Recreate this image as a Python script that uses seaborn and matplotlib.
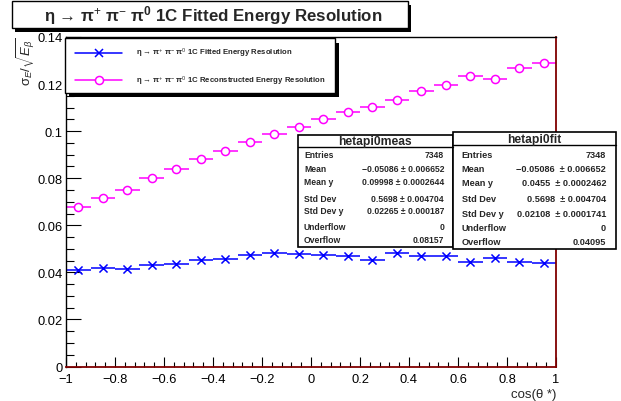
import matplotlib
matplotlib.use("Agg")
import matplotlib.pyplot as plt
import pandas as pd
import seaborn as sns
from matplotlib.patches import Rectangle
from matplotlib.lines import Line2D
from matplotlib.ticker import MultipleLocator, FuncFormatter

# ---- data -------------------------------------------------------------
cos_theta = [-0.95, -0.85, -0.75, -0.65, -0.55, -0.45, -0.35, -0.25, -0.15, -0.05,
             0.05, 0.15, 0.25, 0.35, 0.45, 0.55, 0.65, 0.75, 0.85, 0.95]
fitted_res = [0.0411, 0.0418, 0.0414, 0.0430, 0.0437, 0.0454, 0.0457, 0.0475, 0.0481, 0.0478,
              0.0474, 0.0471, 0.0454, 0.0482, 0.0471, 0.0471, 0.0443, 0.0461, 0.0443, 0.0438]
recon_res = [0.0676, 0.0715, 0.0750, 0.0802, 0.0840, 0.0880, 0.0915, 0.0952, 0.0988, 0.1019,
             0.1050, 0.1082, 0.1102, 0.1133, 0.1172, 0.1195, 0.1233, 0.1223, 0.1267, 0.1291]
bin_half_width = 0.05

title_text = "\u03b7 \u2192 \u03c0$^{+}$ \u03c0$^{-}$ \u03c0$^{\\mathbf{0}}$ 1C Fitted Energy Resolution"
legend_labels = [
    "\u03b7 \u2192 \u03c0$^{+}$ \u03c0$^{-}$ \u03c0$^{0}$ 1C Fitted Energy Resolution",
    "\u03b7 \u2192 \u03c0$^{+}$ \u03c0$^{-}$ \u03c0$^{0}$ 1C Reconstructed Energy Resolution",
]
stat_names = ["Entries", "Mean", "Mean y", "Std Dev", "Std Dev y", "Underflow", "Overflow"]
meas_title = "hetapi0meas"
meas_values = ["7348", "\u22120.05086 \u00b1 0.006652", "0.09998 \u00b1 0.0002644",
               "0.5698 \u00b1 0.004704", "0.02265 \u00b1 0.000187", "0", "0.08157"]
fit_title = "hetapi0fit"
fit_values = ["7348", "\u22120.05086  \u00b1 0.006652", "0.0455  \u00b1 0.0002462",
              "0.5698  \u00b1 0.004704", "0.02108  \u00b1 0.0001741", "0", "0.04095"]

# ---- style ------------------------------------------------------------
sns.set_theme(style="ticks")
plt.rcParams["font.family"] = ["Liberation Sans", "DejaVu Sans"]
plt.rcParams["mathtext.fontset"] = "custom"
plt.rcParams["mathtext.rm"] = "Liberation Sans"
plt.rcParams["mathtext.it"] = "Liberation Sans:italic"
plt.rcParams["mathtext.bf"] = "Liberation Sans:bold"
plt.rcParams["axes.unicode_minus"] = True

W, H = 621, 402
fig = plt.figure(figsize=(W / 100, H / 100), dpi=100, facecolor="white")


def fx(x):
    return x / W


def fy(y):
    return 1 - y / H


ax_l, ax_r, ax_t, ax_b = 66, 556, 38, 367.5
ax = fig.add_axes([fx(ax_l), fy(ax_b), (ax_r - ax_l) / W, (ax_b - ax_t) / H])
ax.set_facecolor("white")

df = pd.DataFrame({"cos": cos_theta, "fit": fitted_res, "rec": recon_res})

# horizontal bin-width bars
ax.errorbar(df["cos"], df["rec"], xerr=bin_half_width, fmt="none",
            ecolor="#ff00ff", elinewidth=1.1, capsize=0, zorder=2)
ax.errorbar(df["cos"], df["fit"], xerr=bin_half_width, fmt="none",
            ecolor="#0000ff", elinewidth=1.1, capsize=0, zorder=2)

# markers
sns.scatterplot(data=df, x="cos", y="rec", marker="o", s=34, color="white",
                edgecolor="#ff00ff", linewidth=1.1, ax=ax, zorder=3, legend=False)
sns.scatterplot(data=df, x="cos", y="fit", marker="x", s=34, color="#0000ff",
                linewidth=1.1, ax=ax, zorder=3, legend=False)

ax.set_xlim(-1, 1)
ax.set_ylim(0, 0.14)
ax.set_xlabel("")
ax.set_ylabel("")

ax.xaxis.set_major_locator(MultipleLocator(0.2))
ax.xaxis.set_minor_locator(MultipleLocator(0.04))
ax.yaxis.set_major_locator(MultipleLocator(0.02))
ax.yaxis.set_minor_locator(MultipleLocator(0.005))


def fmt(v, _):
    s = f"{v:.2f}".rstrip("0").rstrip(".")
    if s in ("-0", "0", ""):
        return "0"
    return s.replace("-", "\u2212")


ax.xaxis.set_major_formatter(FuncFormatter(fmt))
ax.yaxis.set_major_formatter(FuncFormatter(fmt))
ax.tick_params(axis="both", which="both", direction="in", labelsize=9.3,
               colors="black", width=0.8)
ax.tick_params(axis="x", which="major", length=7.2, pad=4.5)
ax.tick_params(axis="x", which="minor", length=3.6)
ax.tick_params(axis="y", which="major", length=10.5, pad=2.5)
ax.tick_params(axis="y", which="minor", length=5.5)

for side in ("top", "left"):
    ax.spines[side].set_color("black")
    ax.spines[side].set_linewidth(1.0)
for side in ("right", "bottom"):
    ax.spines[side].set_color("#800000")
    ax.spines[side].set_linewidth(1.3)

# axis titles
fig.text(fx(26), fy(37), r"$\mathrm{\sigma}_{E}/\sqrt{E_{\beta}}$", rotation=90,
         ha="center", va="top", fontsize=9.5)
fig.text(fx(556), fy(395), "cos(\u03b8 *)", ha="right", va="center", fontsize=9.5)

# ---- title box --------------------------------------------------------
def shadow_box(l, t, r, b, dx, dy, lw=1.0):
    fig.patches.append(Rectangle((fx(l + dx), fy(b + dy)), (r - l) / W, (b - t) / H,
                                 transform=fig.transFigure, facecolor="black",
                                 edgecolor="none", zorder=5))
    fig.patches.append(Rectangle((fx(l), fy(b)), (r - l) / W, (b - t) / H,
                                 transform=fig.transFigure, facecolor="white",
                                 edgecolor="black", linewidth=lw, zorder=6))


shadow_box(11.5, 2, 408, 29, 3, 4)
fig.text(fx(213), fy(15.5), title_text, ha="center", va="center",
         fontsize=12.2, fontweight="bold", zorder=7)

# ---- legend -----------------------------------------------------------
shadow_box(65, 39, 335, 93.5, 4, 4.5)
leg_rows = [(53.5, "#0000ff", "x", "#0000ff"), (81, "#ff00ff", "o", "white")]
for (yy, col, mk, face), lab in zip(leg_rows, legend_labels):
    fig.lines.append(Line2D([fx(75), fx(122)], [fy(yy), fy(yy)], transform=fig.transFigure,
                            color=col, linewidth=1.1, zorder=7))
    fig.lines.append(Line2D([fx(98.5)], [fy(yy)], transform=fig.transFigure, color=col,
                            marker=mk, markersize=5.8, markerfacecolor=face,
                            markeredgecolor=col, markeredgewidth=1.1,
                            linestyle="none", zorder=8))
    fig.text(fx(136), fy(yy), lab, ha="left", va="center", fontsize=5.6,
             fontweight="bold", zorder=8)

# ---- statistics boxes -------------------------------------------------
def stats_box(l, t, r, b, sep, title, values, label_x, value_x, rows, fs):
    fig.patches.append(Rectangle((fx(l), fy(b)), (r - l) / W, (b - t) / H,
                                 transform=fig.transFigure, facecolor="white",
                                 edgecolor="black", linewidth=1.2, zorder=9))
    fig.lines.append(Line2D([fx(l), fx(r)], [fy(sep), fy(sep)], transform=fig.transFigure,
                            color="black", linewidth=1.0, zorder=10))
    fig.text(fx((l + r) / 2), fy((t + sep) / 2 + 0.5), title, ha="center", va="center",
             fontsize=8.7, fontweight="bold", zorder=10)
    for name, val, yy in zip(stat_names, values, rows):
        fig.text(fx(label_x), fy(yy), name, ha="left", va="center", fontsize=fs,
                 fontweight="bold", zorder=10)
        fig.text(fx(value_x), fy(yy), val, ha="right", va="center", fontsize=fs,
                 fontweight="bold", zorder=10)


stats_box(297.5, 136, 452.5, 247.5, 148, meas_title, meas_values, 304, 444,
          [155.3, 170, 182.7, 199.3, 211.7, 227.3, 241], 6.2)
stats_box(453, 132.5, 616, 250, 146, fit_title, fit_values, 461.5, 606,
          [155.3, 170, 184, 200, 214.3, 228.3, 242.7], 6.6)

fig.savefig("out.png", dpi=100, facecolor="white")
